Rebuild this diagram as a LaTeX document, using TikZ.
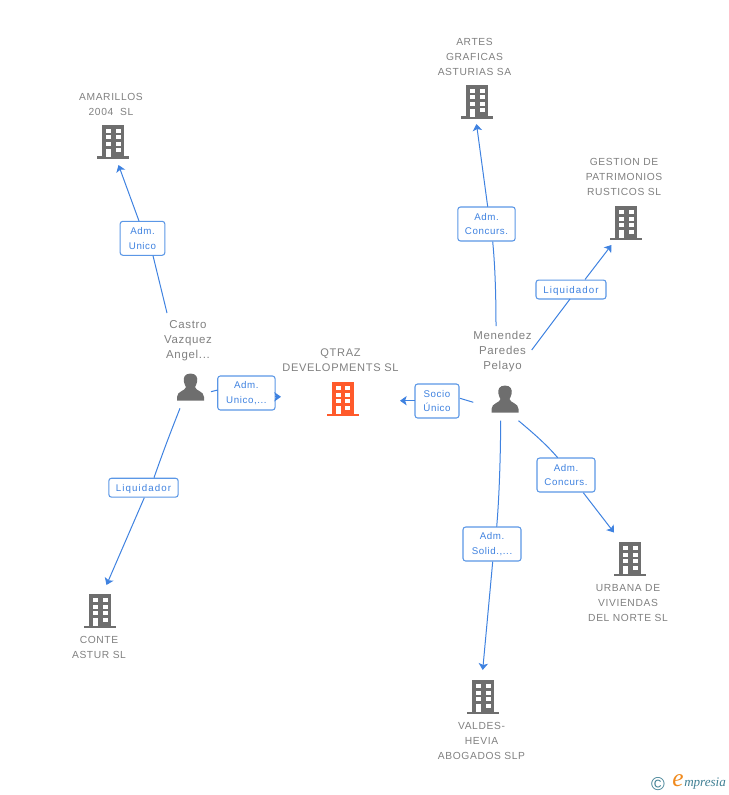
\documentclass[tikz,border=0pt]{standalone}
\usepackage{fontspec}
\setmainfont[LetterSpace=6]{Liberation Sans}
\newfontfamily\logofont{Liberation Serif}
\newfontfamily\widefont[LetterSpace=11]{Liberation Sans}
\usetikzlibrary{arrows.meta}
\definecolor{linkblue}{HTML}{3F82E0}
\definecolor{boxblue}{HTML}{5B97E6}
\definecolor{labelgray}{HTML}{808080}
\definecolor{icongray}{HTML}{6E6E6E}
\definecolor{iconorange}{HTML}{FF5A2B}
\definecolor{logoteal}{HTML}{3F7F93}
\definecolor{logoorange}{HTML}{F08A1D}
\tikzset{
  x=0.75pt,y=-0.75pt,
  link/.style={draw=linkblue,line width=0.75pt},
  arrowlink/.style={link,-{Stealth[length=5pt,width=7pt,inset=1.2pt]}},
  rolebox/.style={draw=boxblue,line width=0.8pt,rounded corners=2pt,fill=white,inner sep=0pt,
    text=linkblue,font=\fontsize{7.3pt}{11.2pt}\selectfont,align=center,minimum height=25.5pt,
    execute at begin node={\rule{0pt}{7.2pt}}},
  rolesingle/.style={rolebox,minimum height=14.2pt,font=\widefont\fontsize{7.3pt}{11.2pt}\selectfont},
  caption/.style={text=labelgray,font=\fontsize{7.7pt}{11.25pt}\selectfont,align=center,inner sep=0pt},
  personcaption/.style={caption,font=\fontsize{8.6pt}{11.25pt}\selectfont},
  iconspot/.style={inner sep=0pt,minimum width=24pt,minimum height=25.5pt},
  pics/building/.style={code={
    \fill[#1] (-11,-17) rectangle (11,15);
    \fill[#1] (-16,14.5) rectangle (16,17);
    \fill[white] (-7,-13) rectangle (-2,-9);
    \fill[white] (2.5,-13) rectangle (7.5,-9);
    \fill[white] (-7,-6.5) rectangle (-2,-2.5);
    \fill[white] (2.5,-6.5) rectangle (7.5,-2.5);
    \fill[white] (-7,0) rectangle (-2,4);
    \fill[white] (2.5,0) rectangle (7.5,4);
    \fill[white] (-7,7) rectangle (-2,15);
    \fill[white] (2.5,6.5) rectangle (7.5,10.5);
  }},
  pics/person/.style={code={
    \fill[icongray] (0,-14.5) .. controls (-6,-14.5) and (-7.5,-10) .. (-6.5,-6)
      .. controls (-6,-3.5) and (-5,-2) .. (-4.5,-1)
      .. controls (-5,3) and (-13.5,3) .. (-13.5,9) -- (-13.5,12.7) -- (13.5,12.7) -- (13.5,9)
      .. controls (13.5,3) and (5,3) .. (4.5,-1)
      .. controls (5,-2) and (6,-3.5) .. (6.5,-6)
      .. controls (7.5,-10) and (6,-14.5) .. (0,-14.5) -- cycle;
  }},
}
\begin{document}
\begin{tikzpicture}
\useasboundingbox (0,0) rectangle (728,795);
% icons
\node[iconspot] (qtraz) at (342.5,399) {};
\pic at (342.5,399) {building=iconorange};
\node[iconspot] (amarillos) at (113,142) {};
\pic at (113,142) {building=icongray};
\node[iconspot] (artes) at (477,102) {};
\pic at (477,102) {building=icongray};
\node[iconspot] (gestion) at (626,223) {};
\pic at (626,223) {building=icongray};
\node[iconspot] (urbana) at (630,559) {};
\pic at (630,559) {building=icongray};
\node[iconspot] (valdes) at (483,697) {};
\pic at (483,697) {building=icongray};
\node[iconspot] (conte) at (100,611) {};
\pic at (100,611) {building=icongray};
\node[iconspot] (castro) at (190.5,388) {};
\pic at (190.5,388) {person};
\node[iconspot] (menendez) at (505,400) {};
\pic at (505,400) {person};
% captions
\node[caption,font=\fontsize{8.3pt}{11.25pt}\selectfont] (capqtraz) at (340.5,360.5) {QTRAZ\\DEVELOPMENTS SL};
\node[caption] (capamarillos) at (111,104) {AMARILLOS\\2004\ \ SL};
\node[caption] (capartes) at (474.5,56.5) {ARTES\\GRAFICAS\\ASTURIAS SA};
\node[caption] (capgestion) at (624,177) {GESTION DE\\PATRIMONIOS\\RUSTICOS SL};
\node[caption] (capurbana) at (628,603) {URBANA DE\\VIVIENDAS\\DEL NORTE SL};
\node[caption] (capvaldes) at (481.5,741) {VALDES-\\HEVIA\\ABOGADOS SLP};
\node[caption] (capconte) at (99,647.5) {CONTE\\ASTUR SL};
\node[personcaption] (capcastro) at (188,340.5) {Castro\\Vazquez\\Angel...};
\node[personcaption] (capmenendez) at (502.5,352) {Menendez\\Paredes\\Pelayo};
% role boxes
\node[rolebox,minimum width=33.5pt] (b1) at (142.5,238.3) {Adm.\\Unico};
\node[rolebox,minimum width=43pt] (b2) at (246.4,393) {Adm.\\Unico,...};
\node[rolesingle,minimum width=52pt] (b3) at (143.5,487.7) {Liquidador};
\node[rolebox,minimum width=33pt] (b4) at (437,401) {Socio\\Único};
\node[rolebox,minimum width=43pt] (b5) at (486.5,224) {Adm.\\Concurs.};
\node[rolesingle,minimum width=52.5pt] (b6) at (571,289.5) {Liquidador};
\node[rolebox,minimum width=43.5pt] (b7) at (566,475) {Adm.\\Concurs.};
\node[rolebox,minimum width=43.5pt] (b8) at (492,544) {Adm.\\Solid.,...};
% connector ends
\coordinate (a1) at (118.5,165);
\coordinate (a2) at (281,396.8);
\coordinate (a3) at (106.5,585);
\coordinate (a4) at (400,400.7);
\coordinate (a5) at (476.5,124);
\coordinate (a6) at (611.5,245);
\coordinate (a7) at (614,532.5);
\coordinate (a8) at (482.7,670);
\coordinate (s1) at (167,313);
\coordinate (s2) at (211,391.7);
\coordinate (s3) at (180,408.3);
\coordinate (s4) at (473.3,402.3);
\coordinate (s5) at (496,326);
\coordinate (s6) at (531.7,350);
\coordinate (s7) at (518.5,420.7);
\coordinate (s8) at (500.7,420.7);
\coordinate (i1) at (153,255.7);
\coordinate (o1) at (139,221);
\coordinate (i2) at (217.7,390);
\coordinate (o2) at (275,396.8);
\coordinate (i3) at (154,477.7);
\coordinate (o3) at (144.3,497.7);
\coordinate (i4) at (460,398.3);
\coordinate (o4) at (415,400.7);
\coordinate (i5) at (492.7,241.7);
\coordinate (o5) at (487.7,206.7);
\coordinate (i6) at (570,299);
\coordinate (o6) at (585,279.5);
\coordinate (i7) at (557.7,457.7);
\coordinate (o7) at (583.3,492.7);
\coordinate (i8) at (496.7,526.7);
\coordinate (o8) at (492.7,561.7);
% connectors
\draw[link] (s1) -- (i1);
\draw[arrowlink] (o1) -- (a1);
\draw[link] (s2) -- (i2);
\draw[arrowlink] (o2) -- (a2);
\draw[link] (s3) .. controls (171,431) and (163,452) .. (i3);
\draw[arrowlink] (o3) -- (a3);
\draw[link] (s4) -- (i4);
\draw[arrowlink] (o4) -- (a4);
\draw[link] (s5) .. controls (496,295) and (495,265) .. (i5);
\draw[arrowlink] (o5) -- (a5);
\draw[link] (s6) -- (i6);
\draw[arrowlink] (o6) -- (a6);
\draw[link] (s7) .. controls (532,432) and (546,444) .. (i7);
\draw[arrowlink] (o7) -- (a7);
\draw[link] (s8) .. controls (500.5,460) and (499,500) .. (i8);
\draw[arrowlink] (o8) -- (a8);
% logo
\node[inner sep=0pt,text=logoteal,font=\fontsize{14pt}{14pt}\selectfont] (logoc) at (658,784.5) {©};
\node[inner sep=0pt,text=logoorange,font=\logofont\itshape\fontsize{19pt}{19pt}\selectfont] (logoe) at (678,781) {e};
\node[inner sep=0pt,anchor=west,text=logoteal,font=\logofont\itshape\fontsize{9.8pt}{10pt}\selectfont] (logot) at (684,784) {mpresia};
\end{tikzpicture}
\end{document}
